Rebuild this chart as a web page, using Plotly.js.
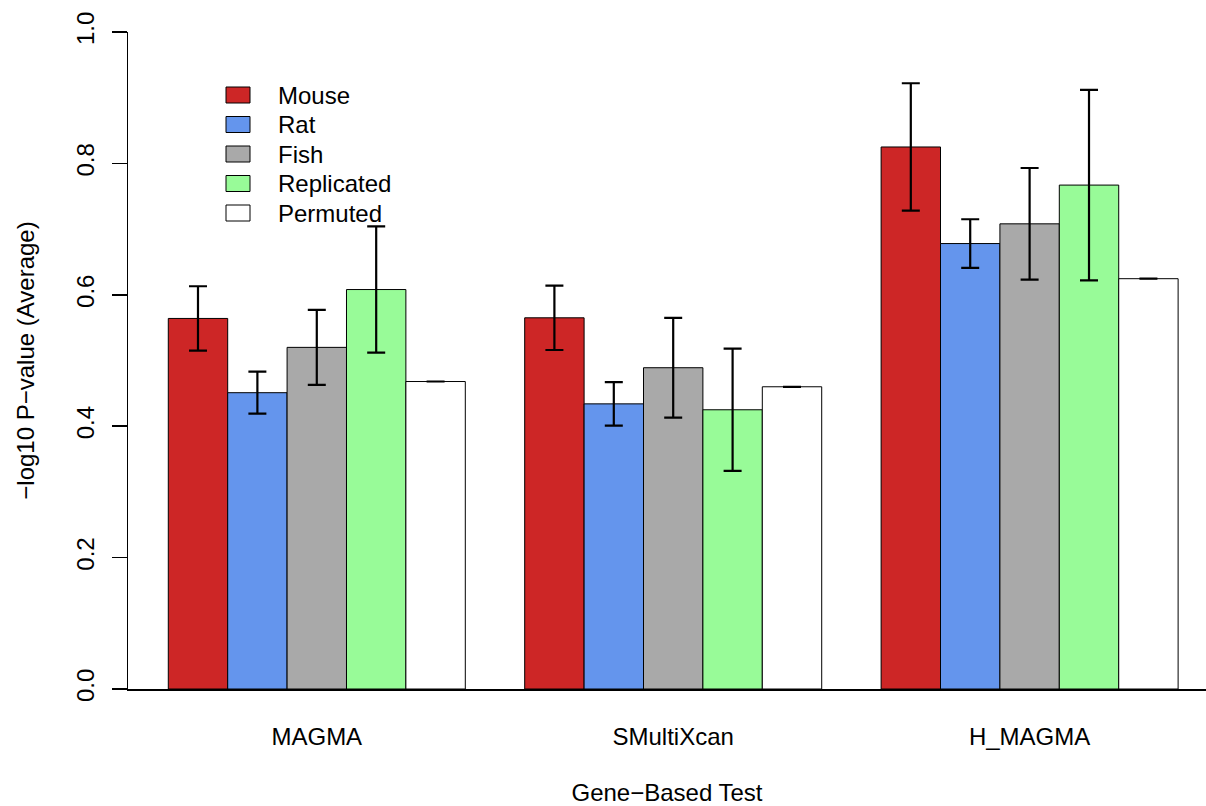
<!DOCTYPE html>
<html>
<head>
<meta charset="utf-8">
<script src="https://cdn.plot.ly/plotly-3.0.1.min.js"></script>
<style>html,body{margin:0;padding:0;background:#fff;}#chart{width:1206px;height:806px;}</style>
</head>
<body>
<div id="chart"></div>
<script>
// ---- data ----
const categories = ["MAGMA", "SMultiXcan", "H_MAGMA"];
const seriesNames = ["Mouse", "Rat", "Fish", "Replicated", "Permuted"];
const seriesColors = ["#CD2626", "#6495ED", "#A9A9A9", "#98FB98", "#FFFFFF"];
const mouseMean = [0.564, 0.565, 0.825];
const mouseErr = [0.049, 0.049, 0.097];
const ratMean = [0.451, 0.434, 0.678];
const ratErr = [0.032, 0.033, 0.037];
const fishMean = [0.520, 0.489, 0.708];
const fishErr = [0.057, 0.076, 0.085];
const replicatedMean = [0.608, 0.425, 0.767];
const replicatedErr = [0.096, 0.093, 0.145];
const permutedMean = [0.468, 0.460, 0.6245];
const permutedErr = [0.0, 0.0, 0.0];
const yTickVals = [0, 0.2, 0.4, 0.6, 0.8, 1.0];
const yTickText = ["0.0", "0.2", "0.4", "0.6", "0.8", "1.0"];
const xTitle = "Gene\u2212Based Test";
const yTitle = "\u2212log10 P\u2212value (Average)";

const means = [mouseMean, ratMean, fishMean, replicatedMean, permutedMean];
const errs = [mouseErr, ratErr, fishErr, replicatedErr, permutedErr];

const FONT = "Liberation Sans, Arial, Helvetica, sans-serif";

const traces = seriesNames.map((name, i) => ({
  type: "bar",
  name: name,
  x: categories,
  y: means[i],
  marker: {color: seriesColors[i], line: {color: "#000000", width: 1}},
  error_y: {type: "data", array: errs[i], visible: true, color: "#000000", thickness: 2.2, width: 9},
  showlegend: false,
  hoverinfo: "x+y+name"
}));

// plot area geometry (pixels) for legend placement
const L = 128, R = 1206, T = 32, B = 689;
const px = p => (p - L) / (R - L);
const py = p => (B - p) / (B - T);

const shapes = [];
const annotations = [];
const legendRowY = [95, 124.5, 154, 183.5, 213];
seriesNames.forEach((name, i) => {
  const cy = legendRowY[i];
  shapes.push({
    type: "rect", xref: "paper", yref: "paper",
    x0: px(226), x1: px(250), y0: py(cy + 8), y1: py(cy - 8),
    fillcolor: seriesColors[i], line: {color: "#000000", width: 1}
  });
  annotations.push({
    xref: "paper", yref: "paper", x: px(276), y: py(cy),
    xanchor: "left", yanchor: "middle", showarrow: false,
    text: name, font: {family: FONT, size: 24, color: "#000000"}
  });
});

const layout = {
  width: 1206, height: 806,
  margin: {l: L, r: 1206 - R, t: T, b: 806 - B, pad: 0},
  paper_bgcolor: "#ffffff", plot_bgcolor: "#ffffff",
  font: {family: FONT, size: 24, color: "#000000"},
  barmode: "group",
  bargap: 1 / 6,
  bargroupgap: 0,
  showlegend: false,
  xaxis: {
    type: "category",
    range: [-0.5297, 2.4949],
    showline: true, linecolor: "#000000", linewidth: 2,
    ticks: "", showgrid: false, zeroline: false,
    ticklabelstandoff: 25,
    tickfont: {family: FONT, size: 24, color: "#000000"},
    title: {text: xTitle, font: {family: FONT, size: 24, color: "#000000"}, standoff: 45}
  },
  yaxis: {
    range: [0, 1],
    tickvals: yTickVals, ticktext: yTickText,
    tickangle: -90,
    ticks: "outside", ticklen: 15, tickwidth: 1.5, tickcolor: "#000000",
    showline: true, linecolor: "#000000", linewidth: 1.5,
    showgrid: false, zeroline: false,
    ticklabelstandoff: 8,
    tickfont: {family: FONT, size: 24, color: "#000000"},
    title: {text: yTitle, font: {family: FONT, size: 24, color: "#000000"}, standoff: 30}
  },
  shapes: shapes,
  annotations: annotations
};

Plotly.newPlot("chart", traces, layout, {displayModeBar: false, staticPlot: true});
</script>
</body>
</html>
